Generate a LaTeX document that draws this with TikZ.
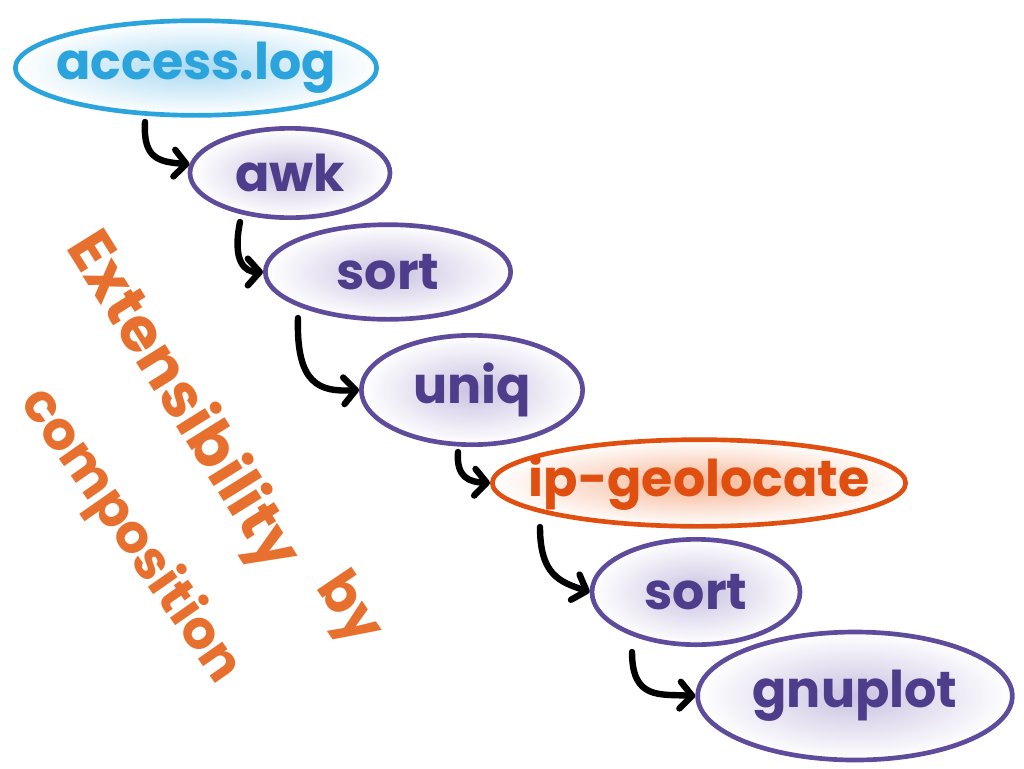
\documentclass[tikz,border=0pt]{standalone}
\usepackage{fontspec}
\setmainfont{Poppins}
\usetikzlibrary{shapes.geometric,arrows.meta}
\definecolor{blueA}{HTML}{2BA3DC}
\definecolor{blueF}{HTML}{AAD9F2}
\definecolor{purpA}{HTML}{5E4B9C}
\definecolor{purpT}{HTML}{4E3D8A}
\definecolor{purpF}{HTML}{CAC2E1}
\definecolor{orgA}{HTML}{E04E10}
\definecolor{orgF}{HTML}{F5B594}
\definecolor{orgL}{HTML}{E8702E}
\begin{document}
\begin{tikzpicture}[x=0.75pt,y=-0.75pt,
  base/.style={ellipse, line width=3.5pt, inner xsep=-30pt, inner ysep=-12pt, font=\fontsize{38}{44}\selectfont\bfseries},
  proc/.style={base, draw=purpA, inner color=purpF, outer color=white, text=purpT},
  src/.style={base, draw=blueA, inner color=blueF, outer color=white, text=blueA},
  geo/.style={base, draw=orgA, inner color=orgF, outer color=white, text=orgA},
  flow/.style={line width=4.8pt, line cap=round, black, -{Straight Barb[length=9pt,width=20pt,round]}},
  lab/.style={text=orgL, inner sep=0pt}]
\useasboundingbox (0,0) rectangle (1024,768);
\node[src, minimum width=271pt, minimum height=71pt] (log) at (196,68) {access.log};
\node[proc, minimum width=150pt, minimum height=67pt] (awk) at (290,173) {awk};
\node[proc, minimum width=184pt, minimum height=71pt] (sortA) at (388,272) {sort};
\node[proc, minimum width=166pt, minimum height=82pt] (uniq) at (472,390) {uniq};
\node[geo, minimum width=310pt, minimum height=65pt] (geo) at (699,483) {ip-geolocate};
\node[proc, minimum width=156pt, minimum height=79pt] (sortB) at (696,592) {sort};
\node[proc, minimum width=236pt, minimum height=96pt] (plot) at (855,696) {gnuplot};
\coordinate (a1) at (145,122);
\coordinate (a2) at (240,222);
\coordinate (a3) at (298,318);
\coordinate (a4) at (458,452);
\coordinate (a5) at (540,527);
\coordinate (a6) at (632,652);
\draw[flow] (a1) .. controls (143,158) and (158,162) .. (awk.175);
\draw[flow] (a2) .. controls (232,262) and (245,272) .. (sortA.west);
\draw[flow] (a3) .. controls (296,385) and (320,392) .. (uniq.west);
\draw[flow] (a4) .. controls (456,478) and (470,482) .. (geo.west);
\draw[flow] (a5) .. controls (540,575) and (560,582) .. (sortB.west);
\draw[flow] (a6) .. controls (632,700) and (660,694) .. (plot.west);
\node[lab, rotate=-58, font=\fontsize{46}{54}\selectfont\bfseries] (ext) at (181,402) {Extensibility};
\node[lab, rotate=-55, font=\fontsize{40}{48}\selectfont\bfseries] (comp) at (130,536) {composition};
\node[lab, rotate=-56, font=\fontsize{42}{50}\selectfont\bfseries] (by) at (347,610) {by};
\end{tikzpicture}
\end{document}
